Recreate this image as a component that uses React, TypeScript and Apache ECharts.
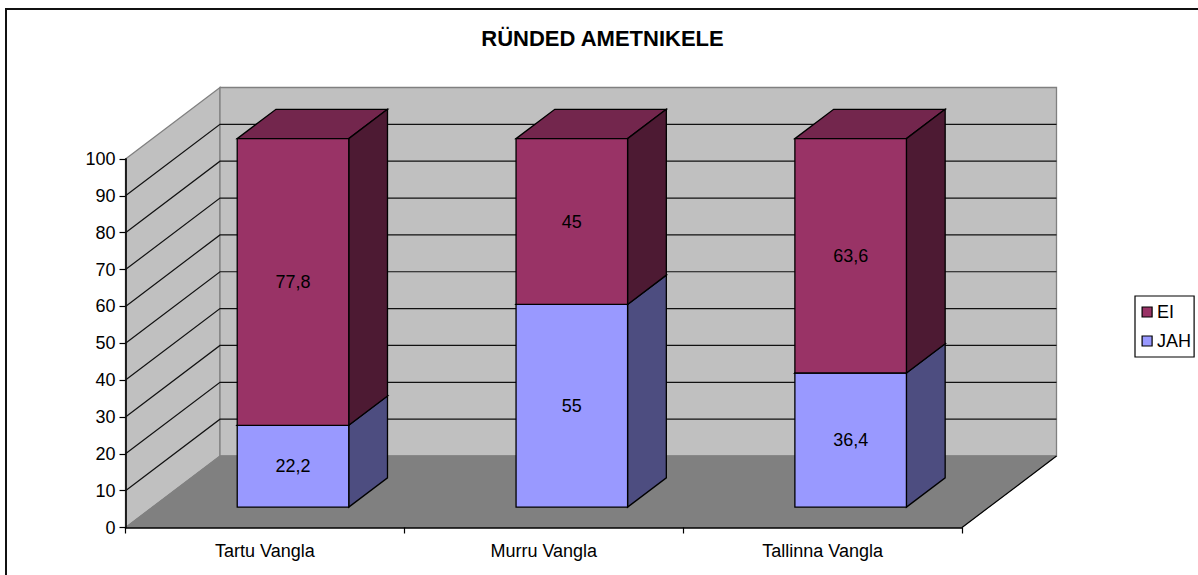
import React, { useEffect, useRef } from "react";
import * as echarts from "echarts";

const categories = ["Tartu Vangla", "Murru Vangla", "Tallinna Vangla"];
const jahValues = [22.2, 55, 36.4];
const eiValues = [77.8, 45, 63.6];
const yTicks = [10, 20, 30, 40, 50, 60, 70, 80, 90];

const FONT = "'Liberation Sans', Arial, sans-serif";
const DEPTH_X = 94.5;
const DEPTH_Y = 71.5;
const BAR_FRONT_X = 0.297;
const BAR_FRONT_Y = 0.285;
const BAR_DEPTH = 0.41;
const BAR_WIDTH = 0.4;

const comma = (v: number) => String(v).replace(".", ",");

function wallsRenderItem(_params: any, api: any) {
  const bw = api.size([1, 0])[0];
  const x0 = api.coord([0, 0])[0] - bw / 2;
  const x1 = api.coord([categories.length - 1, 0])[0] + bw / 2;
  const y0 = api.coord([0, 0])[1];
  const y100 = api.coord([0, 100])[1];
  const bx0 = x0 + DEPTH_X;
  const bx1 = x1 + DEPTH_X;
  const by0 = y0 - DEPTH_Y;
  const by100 = y100 - DEPTH_Y;
  const children: any[] = [
    {
      type: "polygon",
      shape: { points: [[x0, y100], [bx0, by100], [bx0, by0], [x0, y0]] },
      style: { fill: "#C0C0C0", stroke: "#808080", lineWidth: 1.3 },
    },
    {
      type: "polygon",
      shape: { points: [[bx0, by100], [bx1, by100], [bx1, by0], [bx0, by0]] },
      style: { fill: "#C0C0C0", stroke: "#808080", lineWidth: 1.3 },
    },
    {
      type: "polygon",
      shape: { points: [[x0, y0], [x1, y0], [bx1, by0], [bx0, by0]] },
      style: { fill: "#808080", stroke: "#808080", lineWidth: 1 },
    },
    {
      type: "line",
      shape: { x1: x1, y1: y0, x2: bx1, y2: by0 },
      style: { stroke: "#000", lineWidth: 1.2 },
    },
  ];
  yTicks.forEach((t) => {
    const y = api.coord([0, t])[1];
    children.push({
      type: "polyline",
      shape: { points: [[x0, y], [bx0, y - DEPTH_Y], [bx1, y - DEPTH_Y]] },
      style: { fill: "none", stroke: "#111", lineWidth: 1.2 },
    });
  });
  return { type: "group", children };
}

function boxRenderItem(front: string, top: string, side: string) {
  return (_params: any, api: any) => {
    const i = api.value(0);
    const from = api.value(1);
    const to = api.value(2);
    const bw = api.size([1, 0])[0];
    const c = api.coord([i, 0])[0];
    const xl = c - (bw * BAR_WIDTH) / 2 + DEPTH_X * BAR_FRONT_X;
    const xr = c + (bw * BAR_WIDTH) / 2 + DEPTH_X * BAR_FRONT_X;
    const yb = api.coord([i, from])[1] - DEPTH_Y * BAR_FRONT_Y;
    const yt = api.coord([i, to])[1] - DEPTH_Y * BAR_FRONT_Y;
    const dx = DEPTH_X * BAR_DEPTH;
    const dy = DEPTH_Y * BAR_DEPTH;
    const edge = { stroke: "#000", lineWidth: 1.3, lineJoin: "miter" };
    return {
      type: "group",
      children: [
        {
          type: "polygon",
          shape: { points: [[xl, yt], [xl + dx, yt - dy], [xr + dx, yt - dy], [xr, yt]] },
          style: { fill: top, ...edge },
        },
        {
          type: "polygon",
          shape: { points: [[xr, yb], [xr + dx, yb - dy], [xr + dx, yt - dy], [xr, yt]] },
          style: { fill: side, ...edge },
        },
        {
          type: "polygon",
          shape: { points: [[xl, yb], [xr, yb], [xr, yt], [xl, yt]] },
          style: { fill: front, ...edge },
        },
        {
          type: "text",
          x: (xl + xr) / 2,
          y: (yb + yt) / 2,
          style: {
            text: comma(Math.round((to - from) * 10) / 10),
            fill: "#000",
            font: `18px ${FONT}`,
            align: "center",
            verticalAlign: "middle",
          },
        },
      ],
    };
  };
}

function boxData(from: number[], amount: number[]) {
  return amount.map((v, i) => [i, from[i], from[i] + v]);
}

export default function App() {
  const ref = useRef<HTMLDivElement>(null);
  useEffect(() => {
    const chart = echarts.init(ref.current!, null, { renderer: "svg" });
    chart.setOption({
      animation: false,
      backgroundColor: "#fff",
      title: {
        text: "RÜNDED AMETNIKELE",
        left: 597.5,
        top: 22,
        textAlign: "center",
        textStyle: { fontFamily: FONT, fontSize: 22, fontWeight: "bold", color: "#000" },
      },
      legend: {
        orient: "vertical",
        left: 1135,
        top: 296,
        padding: [7, 3, 7, 6.5],
        itemGap: 11,
        itemWidth: 10,
        itemHeight: 10,
        borderColor: "#000",
        borderWidth: 1.2,
        selectedMode: false,
        textStyle: { fontFamily: FONT, fontSize: 18, color: "#000", height: 18, lineHeight: 18 },
        data: [
          { name: "EI", icon: "rect", itemStyle: { borderColor: "#000", borderWidth: 1.2 } },
          { name: "JAH", icon: "rect", itemStyle: { borderColor: "#000", borderWidth: 1.2 } },
        ],
      },
      grid: { left: 125.5, top: 159, width: 836.5, height: 368.5 },
      xAxis: {
        type: "category",
        data: categories,
        z: 10,
        axisLine: { lineStyle: { color: "#000", width: 1.5 } },
        axisTick: { show: true, length: 6, alignWithLabel: false, lineStyle: { color: "#000", width: 1.2 } },
        axisLabel: { color: "#000", fontFamily: FONT, fontSize: 18, margin: 14 },
      },
      yAxis: {
        type: "value",
        min: 0,
        max: 100,
        interval: 10,
        z: 10,
        splitLine: { show: false },
        axisLine: { show: true, lineStyle: { color: "#111", width: 1.8 } },
        axisTick: { show: true, length: 6, lineStyle: { color: "#000", width: 1.2 } },
        axisLabel: { color: "#000", fontFamily: FONT, fontSize: 18, margin: 10 },
      },
      series: [
        {
          type: "custom",
          name: "walls",
          silent: true,
          z: 1,
          renderItem: wallsRenderItem,
          data: [[0, 0]],
        },
        {
          type: "custom",
          name: "JAH",
          z: 2,
          itemStyle: { color: "#9999FF" },
          renderItem: boxRenderItem("#9999FF", "#73739F", "#4D4D80"),
          data: boxData([0, 0, 0], jahValues),
          encode: { x: 0, y: 2 },
        },
        {
          type: "custom",
          name: "EI",
          z: 3,
          itemStyle: { color: "#993366" },
          renderItem: boxRenderItem("#993366", "#73264D", "#4D1A33"),
          data: boxData(jahValues, eiValues),
          encode: { x: 0, y: 2 },
        },
      ],
      graphic: [
        {
          type: "rect",
          silent: true,
          z: 100,
          shape: { x: 6, y: 9, width: 1300, height: 700 },
          style: { fill: "none", stroke: "#111", lineWidth: 2 },
        },
      ],
    });
    return () => chart.dispose();
  }, []);
  return (
    <div
      ref={ref}
      style={{ position: "absolute", left: 0, top: 0, width: 1198, height: 575 }}
    />
  );
}
